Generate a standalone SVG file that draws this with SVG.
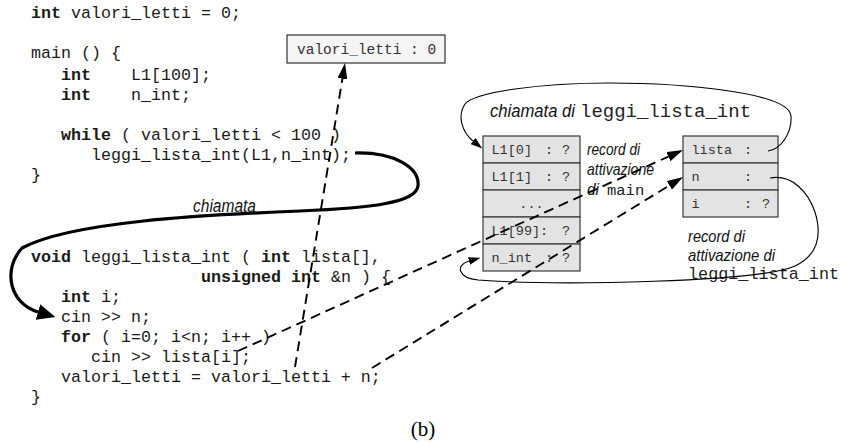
<svg xmlns="http://www.w3.org/2000/svg" width="845" height="447" viewBox="0 0 845 447">
  <style>
    .code { font-family: "Liberation Mono", "Courier New", monospace; font-size: 16.67px; fill: #1a1a1a; }
    .kw { font-weight: bold; }
    .cell { fill: #e3e3e3; stroke: #3a3a3a; stroke-width: 1.2; }
    .cellt { font-family: "Liberation Mono", "Courier New", monospace; font-size: 13.5px; fill: #333; }
    .note { font-family: "Liberation Sans Narrow", "Liberation Sans", Arial, sans-serif; font-style: italic; font-size: 16.5px; fill: #111; }
    .mono { font-family: "Liberation Mono", "Courier New", monospace; fill: #222; }
    .dash { fill: none; stroke: #000; stroke-width: 1.9; stroke-dasharray: 10 6; }
    .thin { fill: none; stroke: #000; stroke-width: 1.1; }
    .thick { fill: none; stroke: #000; stroke-width: 3.2; }
  </style>
  <defs>
    <marker id="headDash" markerUnits="userSpaceOnUse" viewBox="0 0 16 10" refX="0" refY="5" markerWidth="16" markerHeight="10" orient="auto">
      <path d="M0,0 L16,5 L0,10 z" fill="#000"/>
    </marker>
    <marker id="headThin" markerUnits="userSpaceOnUse" viewBox="0 0 12 8" refX="0" refY="4" markerWidth="12" markerHeight="8" orient="auto">
      <path d="M0,0 L12,4 L0,8 z" fill="#000"/>
    </marker>
    <marker id="headThick" markerUnits="userSpaceOnUse" viewBox="0 0 18 16" refX="0" refY="8" markerWidth="18" markerHeight="16" orient="auto">
      <path d="M0,0 L18,8 L0,16 z" fill="#000"/>
    </marker>
  </defs>

  <!-- global variable and main -->
  <g id="code-main" class="code">
    <text x="31" y="18" xml:space="preserve"><tspan class="kw">int</tspan> valori_letti = 0;</text>
    <text x="31" y="58" xml:space="preserve">main () {</text>
    <text x="61" y="80" xml:space="preserve"><tspan class="kw">int</tspan>    L1[100];</text>
    <text x="61" y="100" xml:space="preserve"><tspan class="kw">int</tspan>    n_int;</text>
    <text x="61" y="140" xml:space="preserve"><tspan class="kw">while</tspan> ( valori_letti &lt; 100 )</text>
    <text x="91" y="160" xml:space="preserve">leggi_lista_int(L1,n_int);</text>
    <text x="31" y="180">}</text>
  </g>

  <!-- function leggi_lista_int -->
  <g id="code-leggi" class="code">
    <text x="31" y="262" xml:space="preserve"><tspan class="kw">void</tspan> leggi_lista_int ( <tspan class="kw">int</tspan> lista[],</text>
    <text x="201" y="282" xml:space="preserve"><tspan class="kw">unsigned int</tspan> &amp;n ) {</text>
    <text x="61" y="302" xml:space="preserve"><tspan class="kw">int</tspan> i;</text>
    <text x="61" y="322" xml:space="preserve">cin &gt;&gt; n;</text>
    <text x="61" y="342" xml:space="preserve"><tspan class="kw">for</tspan> ( i=0; i&lt;n; i++ )</text>
    <text x="91" y="362" xml:space="preserve">cin &gt;&gt; lista[i];</text>
    <text x="61" y="382" xml:space="preserve">valori_letti = valori_letti + n;</text>
    <text x="31" y="402">}</text>
  </g>

  <!-- global variable cell -->
  <g id="global-valori">
    <rect x="287" y="35" width="158" height="28" fill="#f5f5f5" stroke="#333" stroke-width="1.2"/>
    <text class="cellt" x="297" y="54" style="font-size:14.5px" xml:space="preserve">valori_letti : 0</text>
  </g>

  <!-- activation record of main -->
  <g id="record-main">
    <rect class="cell" x="483" y="136" width="97" height="27"/>
    <rect class="cell" x="483" y="163" width="97" height="27"/>
    <rect class="cell" x="483" y="190" width="97" height="27"/>
    <rect class="cell" x="483" y="217" width="97" height="27"/>
    <rect class="cell" x="483" y="244" width="97" height="27"/>
    <text class="cellt" y="154"><tspan x="491.5">L1[0]</tspan><tspan x="545">:</tspan><tspan x="562">?</tspan></text>
    <text class="cellt" y="181"><tspan x="491.5">L1[1]</tspan><tspan x="545">:</tspan><tspan x="562">?</tspan></text>
    <text class="cellt" x="531.5" y="208" text-anchor="middle">...</text>
    <text class="cellt" y="235"><tspan x="491.5">L1[99]</tspan><tspan x="540">:</tspan><tspan x="562">?</tspan></text>
    <text class="cellt" y="262"><tspan x="491.5">n_int</tspan><tspan x="545">:</tspan><tspan x="562">?</tspan></text>
  </g>

  <!-- activation record of leggi_lista_int -->
  <g id="record-leggi">
    <rect class="cell" x="683" y="136" width="95" height="27"/>
    <rect class="cell" x="683" y="163" width="95" height="27"/>
    <rect class="cell" x="683" y="190" width="95" height="27"/>
    <text class="cellt" y="154"><tspan x="691.5">lista</tspan><tspan x="744">:</tspan></text>
    <text class="cellt" y="181"><tspan x="691.5">n</tspan><tspan x="744">:</tspan></text>
    <text class="cellt" y="208"><tspan x="691.5">i</tspan><tspan x="744">:</tspan><tspan x="762">?</tspan></text>
  </g>

  <!-- labels -->
  <g id="labels">
    <text class="note" x="193" y="212" textLength="63" lengthAdjust="spacingAndGlyphs" style="font-size:17.5px">chiamata</text>
    <text class="note" x="490" y="117" textLength="85" lengthAdjust="spacingAndGlyphs" style="font-size:17.5px">chiamata di</text>
    <text class="mono" x="580" y="117" style="font-size:19px">leggi_lista_int</text>
    <text class="note" x="587" y="155" textLength="53" lengthAdjust="spacingAndGlyphs">record di</text>
    <text class="note" x="587" y="175" textLength="67" lengthAdjust="spacingAndGlyphs">attivazione</text>
    <text class="note" x="587" y="195" textLength="12" lengthAdjust="spacingAndGlyphs">di</text>
    <text class="mono" x="607" y="195" style="font-size:15.5px">main</text>
    <text class="note" x="688" y="242" textLength="57" lengthAdjust="spacingAndGlyphs">record di</text>
    <text class="note" x="688" y="261" textLength="87" lengthAdjust="spacingAndGlyphs">attivazione di</text>
    <text class="mono" x="688" y="279" style="font-size:16.8px">leggi_lista_int</text>
    <text x="423" y="436" text-anchor="middle" style="font-family:'Liberation Serif','Times New Roman',serif;font-size:21px;fill:#000">(b)</text>
  </g>

  <!-- connectors -->
  <g id="connectors">
    <path class="thick" d="M355,153 C395,152 420,168 418,186 C416,203 370,208 300,211 C200,215 70,222 22,248 C2,270 10,304 38,312" marker-end="url(#headThick)"/>
    <path class="dash" d="M295,367 L342.4,78.8" marker-end="url(#headDash)"/>
    <path class="dash" d="M238,351 L668.4,156.6" marker-end="url(#headDash)"/>
    <path class="dash" d="M372,368 L669.4,185.4" marker-end="url(#headDash)"/>
    <path class="thin" d="M768,151 C782,149 792,132 791,116 C789,92 680,83 610,83 C540,83 475,92 465,104 C457,116 462,132 473,141" marker-end="url(#headThin)"/>
    <path class="thin" d="M770,178 C792,174 808,192 815,212 C822,235 818,255 795,266 C760,282 560,286 478,280 C458,278 455,265 469,261" marker-end="url(#headThin)"/>
  </g>
</svg>
